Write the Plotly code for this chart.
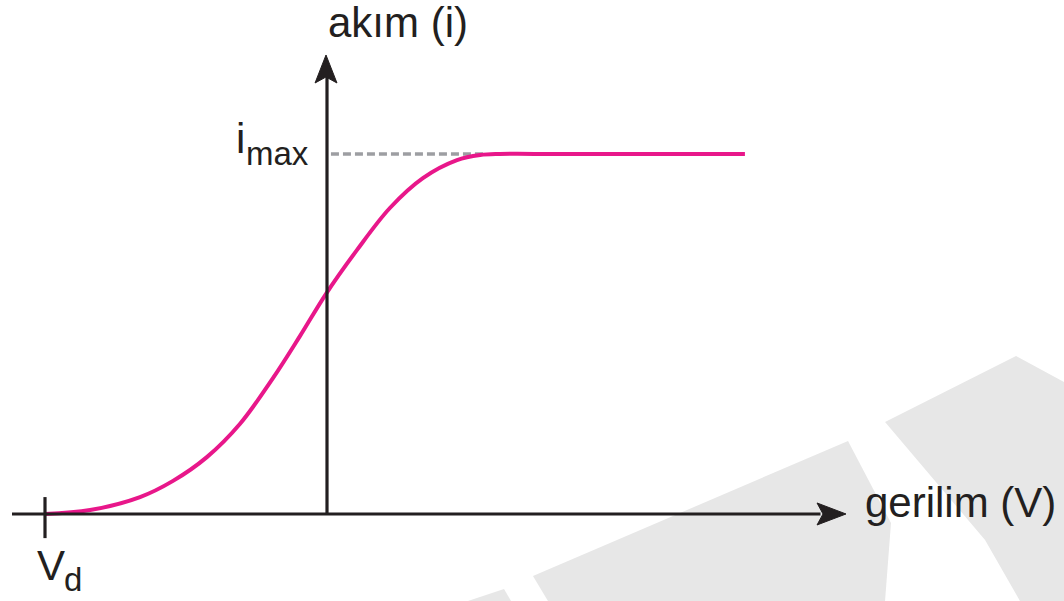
import plotly.graph_objects as go

# ---- data ----
voltage = [-1.0, -0.84, -0.663, -0.546, -0.426, -0.309, -0.191, -0.096, -0.004,
           0.106, 0.223, 0.340, 0.461, 0.543, 0.613, 0.826, 1.482]
current = [0.0, 0.011, 0.047, 0.092, 0.158, 0.25, 0.378, 0.494, 0.611,
           0.733, 0.85, 0.933, 0.983, 0.997, 1.0, 1.0, 1.0]
i_max = 1.0
v_d = -1.0

W, H = 1064, 601
INK = "#231f20"
PINK = "#e8178a"
FONT = "Liberation Sans, Arial, sans-serif"

fig = go.Figure()

# i_max dashed guide
fig.add_trace(go.Scatter(x=[0.014, 0.56], y=[i_max, i_max], mode="lines",
                         line=dict(color="#9d9ea2", width=3.5, dash="8px,4px"),
                         hoverinfo="skip", showlegend=False))
# curve
fig.add_trace(go.Scatter(x=voltage, y=current, mode="lines",
                         line=dict(color=PINK, width=4, shape="spline", smoothing=1.0),
                         hoverinfo="skip", showlegend=False))

# watermark shapes (pixel polygons -> paper)
def poly(pts):
    s = ""
    for k, (px, py) in enumerate(pts):
        s += ("M" if k == 0 else "L") + f"{px / W:.4f},{1 - py / H:.4f} "
    return s + "Z"

wm = [
    [(468, 601), (504, 589), (511, 601)],
    [(533, 576), (848, 441), (891, 523), (885, 601), (548, 601)],
    [(885, 422), (1016, 356), (1064, 382), (1064, 601), (1020, 601), (985, 540)],
]
shapes = [dict(type="path", path=poly(p), xref="paper", yref="paper",
               fillcolor="#e7e7e7", line=dict(width=0), layer="below") for p in wm]

# axes lines (data coords) and arrowheads
shapes.append(dict(type="line", xref="x", yref="y", x0=-1.117, x1=1.75, y0=0, y1=0,
                   line=dict(color=INK, width=3.2)))
shapes.append(dict(type="line", xref="x", yref="y", x0=0, x1=0, y0=0, y1=1.22,
                   line=dict(color=INK, width=3.2)))
heads = [
    [(326, 55), (315, 83), (326, 77), (337, 83)],
    [(846, 514), (817, 503), (823, 514), (817, 525)],
]
for hd in heads:
    shapes.append(dict(type="path", path=poly(hd), xref="paper", yref="paper",
                       fillcolor=INK, line=dict(color=INK, width=1)))

# V_d tick
shapes.append(dict(type="line", xref="x", yref="y", x0=v_d, x1=v_d, y0=-0.067, y1=0.047,
                   line=dict(color=INK, width=3.2)))

def label(txt, x, y, size):
    return dict(x=x, y=y, xref="x", yref="y", text=txt, showarrow=False,
                xanchor="left", yanchor="middle", borderpad=0,
                font=dict(family=FONT, size=size, color=INK))

annotations = [
    label("akım (i)", 0.0, 1.364, 42),
    label("gerilim (V)", 1.904, 0.033, 42),
    label("i", -0.326, 1.044, 42),
    label("max", -0.291, 1.001, 33),
    label("V", -1.032, -0.142, 42),
    label("d", -0.936, -0.183, 33),
]

fig.update_layout(
    width=W, height=H,
    margin=dict(l=0, r=0, t=0, b=0),
    paper_bgcolor="white", plot_bgcolor="white",
    xaxis=dict(range=[-327 / 282, (W - 327) / 282], visible=False, fixedrange=True),
    yaxis=dict(range=[-87 / 360, 514 / 360], visible=False, fixedrange=True),
    shapes=shapes, annotations=annotations,
)

fig.write_html("out.html", config={"displayModeBar": False},
               post_script="document.body.style.margin='0';document.body.style.overflow='hidden';")
